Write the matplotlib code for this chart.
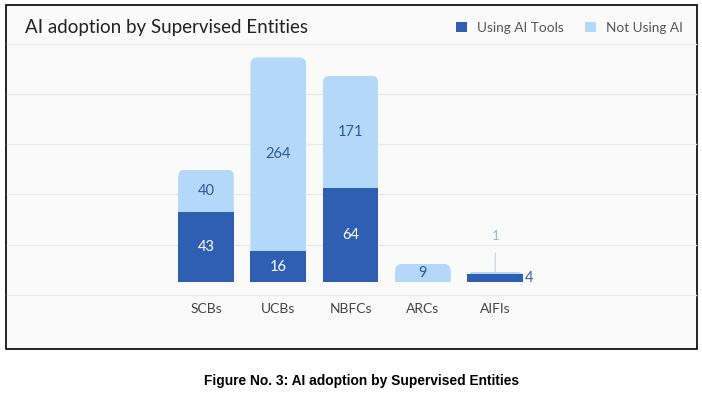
import numpy as np
import matplotlib
matplotlib.use("Agg")
import matplotlib.pyplot as plt
from matplotlib.patches import Rectangle, FancyBboxPatch, Patch
from matplotlib.lines import Line2D
from matplotlib.transforms import IdentityTransform

# Data:
categories = ["SCBs", "UCBs", "NBFCs", "ARCs", "AIFIs"]
using_ai = [43, 16, 64, 0, 4]
not_using_ai = [40, 264, 171, 9, 1]
series_names = ["Using AI Tools", "Not Using AI"]

DARK = "#2f5fb3"
LIGHT = "#b3d8f9"
BG = "#fafafa"
GRID = "#ebebeb"
W, H = 702, 399

plt.rcParams["font.family"] = ["Lato", "DejaVu Sans"]

fig = plt.figure(figsize=(W / 100, H / 100), dpi=100)
fig.patch.set_facecolor("white")

def fx(px):
    return px / W

def fy(py):
    return 1 - py / H

# frame + grid (behind the axes)
fig.add_artist(Rectangle((fx(6), fy(349)), fx(697) - fx(6), fy(5) - fy(349),
                         transform=fig.transFigure, facecolor=BG,
                         edgecolor="black", lw=1.2, zorder=-3))
for gy in [44, 94, 144, 194, 245, 295]:
    fig.add_artist(Line2D([fx(7), fx(696)], [fy(gy), fy(gy)],
                          transform=fig.transFigure, color=GRID, lw=1, zorder=-2))

# axes (log-like scale to mimic the original's compressed bars)
K = 60.0
fwd = lambda v: np.log1p(np.maximum(v, 0) / K)
inv = lambda t: K * np.expm1(t)

ax = fig.add_axes([fx(169.8), fy(282), fx(531.4) - fx(169.8), fy(50) - fy(282)])
ax.patch.set_visible(False)
ax.set_yscale("function", functions=(fwd, inv))
ax.set_xlim(-0.5, len(categories) - 0.5)
ax.set_ylim(0, 300)

x = np.arange(len(categories))
using = np.array(using_ai)
notusing = np.array(not_using_ai)
wbar = 0.77

b1 = ax.bar(x, using, wbar, color=DARK, zorder=3)
b2 = ax.bar(x, notusing, wbar, bottom=using, color=LIGHT, zorder=2)

ax.set_xticks(x, categories)
ax.tick_params(axis="x", length=0, pad=15, labelsize=10, labelcolor="#444444")
ax.set_yticks([])
for s in ax.spines.values():
    s.set_visible(False)

# rounded top corners for the top segment
fig.canvas.draw()
for r in b2:
    if r.get_height() <= 0:
        continue
    bb = r.get_window_extent()
    clip = FancyBboxPatch((bb.x0, bb.y0 - 30), bb.width, bb.height + 30,
                          boxstyle="round,pad=0,rounding_size=7",
                          transform=IdentityTransform())
    r.set_clip_path(clip)

def mid(b, t):
    return inv((fwd(b) + fwd(t)) / 2)

def px_height(b, t):
    return ax.transData.transform((0, t))[1] - ax.transData.transform((0, b))[1]

for i in range(len(categories)):
    u, n = using[i], notusing[i]
    small = px_height(0, u + n) < 12
    if not small:
        if u > 0:
            ax.text(x[i], mid(0, u), str(u), ha="center", va="center",
                    color="white", fontsize=10.5, zorder=5)
        if n > 0:
            ax.text(x[i], mid(u, u + n), str(n), ha="center", va="center",
                    color="#2d5a8e", fontsize=10.5, zorder=5)
    else:
        if u > 0:
            ax.annotate(str(u), xy=(x[i] + wbar / 2, mid(0, u)), xytext=(2, 0),
                        textcoords="offset pixels", ha="left", va="center",
                        color=DARK, fontsize=10.5, zorder=5)
        if n > 0:
            ax.annotate(str(n), xy=(x[i], u + n), xytext=(0, 36),
                        textcoords="offset pixels", ha="center", va="center",
                        color="#9db4d6", fontsize=9.5, zorder=5,
                        arrowprops=dict(arrowstyle="-", color="#c2d3ea", lw=0.8,
                                        shrinkA=6, shrinkB=0))

# title and legend
fig.text(fx(25), fy(28), "AI adoption by Supervised Entities", ha="left",
         va="center", fontsize=13.5, color="#222222")
handles = [Patch(facecolor=DARK, label=series_names[0]),
           Patch(facecolor=LIGHT, label=series_names[1])]
leg = fig.legend(handles=handles, loc="center right",
                 bbox_to_anchor=(fx(688), fy(28)), ncol=2, frameon=False,
                 fontsize=9.8, handlelength=0.8, handleheight=0.8,
                 handletextpad=0.7, columnspacing=1.6, borderaxespad=0)
for t in leg.get_texts():
    t.set_color("#555555")

# caption
fig.text(fx(362), fy(381), "Figure No. 3: AI adoption by Supervised Entities",
         ha="center", va="center", fontsize=9.9, fontweight="bold",
         family=["Liberation Sans", "DejaVu Sans"], color="black")

fig.savefig("out.png", dpi=100)
